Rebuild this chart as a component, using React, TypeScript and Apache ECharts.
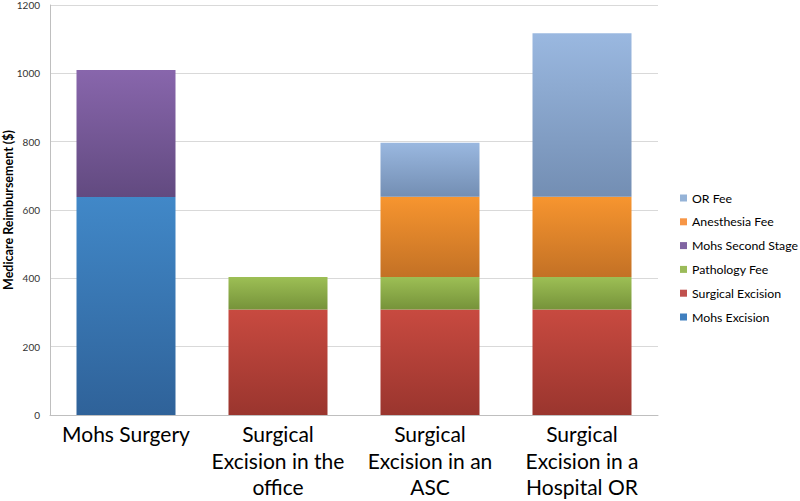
import React, { useEffect, useRef } from "react";
import * as echarts from "echarts";

const categories = [
  "Mohs Surgery",
  "Surgical\nExcision in the\noffice",
  "Surgical\nExcision in an\nASC",
  "Surgical\nExcision in a\nHospital OR",
];
const mohsExcision = [638, 0, 0, 0];
const surgicalExcision = [0, 309, 309, 309];
const pathologyFee = [0, 95, 95, 95];
const mohsSecondStage = [372, 0, 0, 0];
const anesthesiaFee = [0, 0, 235, 235];
const orFee = [0, 0, 158, 478];
const yTicks = { min: 0, max: 1200, interval: 200 };

const seriesDefs = [
  { name: "Mohs Excision", data: mohsExcision, top: "#4188C8", bottom: "#2F6299", legend: "#3F7FBF" },
  { name: "Surgical Excision", data: surgicalExcision, top: "#C84A40", bottom: "#9A352E", legend: "#C0504D" },
  { name: "Pathology Fee", data: pathologyFee, top: "#9DBF55", bottom: "#76933A", legend: "#9BBB59" },
  { name: "Mohs Second Stage", data: mohsSecondStage, top: "#8866AC", bottom: "#624A80", legend: "#8064A2" },
  { name: "Anesthesia Fee", data: anesthesiaFee, top: "#F7952F", bottom: "#C37125", legend: "#F79646" },
  { name: "OR Fee", data: orFee, top: "#9AB8E0", bottom: "#738EB3", legend: "#95B3D7" },
];
const legendOrder = ["OR Fee", "Anesthesia Fee", "Mohs Second Stage", "Pathology Fee", "Surgical Excision", "Mohs Excision"];

export default function App() {
  const ref = useRef<HTMLDivElement>(null);
  useEffect(() => {
    if (!ref.current) return;
    const chart = echarts.init(ref.current, null, { renderer: "svg" });
    const font = "Lato, 'Open Sans', sans-serif";
    chart.setOption({
      animation: false,
      backgroundColor: "#ffffff",
      textStyle: { fontFamily: font },
      grid: { left: 50, right: 142, top: 5, bottom: 86, outerBoundsMode: "none", containLabel: false },
      legend: {
        orient: "vertical",
        left: 675,
        top: 187,
        itemWidth: 7,
        itemHeight: 7,
        itemGap: 11.8,
        icon: "rect",
        textStyle: { fontSize: 12.3, color: "#000", fontFamily: font },
        data: legendOrder.map((n) => {
          const d = seriesDefs.find((s) => s.name === n)!;
          return { name: n, itemStyle: { color: d.legend } };
        }),
      },
      xAxis: {
        type: "category",
        data: categories,
        axisTick: { show: false },
        axisLine: { lineStyle: { color: "#BFBFBF" } },
        axisLabel: {
          interval: 0,
          fontSize: 21,
          lineHeight: 26.5,
          color: "#000",
          margin: 5.5,
          fontFamily: font,
        },
      },
      yAxis: {
        type: "value",
        min: yTicks.min,
        max: yTicks.max,
        interval: yTicks.interval,
        name: "Medicare Reimbursement ($)",
        nameLocation: "middle",
        nameGap: 35,
        nameMoveOverlap: false,
        nameTextStyle: { fontSize: 12.5, fontWeight: "bold", color: "#000", fontFamily: font },
        axisLine: { show: true, lineStyle: { color: "#BFBFBF" } },
        axisTick: { show: false },
        axisLabel: { fontSize: 10, color: "#333", margin: 10, fontFamily: font, formatter: (v: number) => String(v) },
        splitLine: { lineStyle: { color: "#D9D9D9" } },
      },
      series: seriesDefs.map((s) => ({
        name: s.name,
        type: "bar",
        stack: "total",
        barWidth: 99,
        data: s.data.map((v) => (v === 0 ? "-" : v)),
        itemStyle: {
          color: new echarts.graphic.LinearGradient(0, 0, 0, 1, [
            { offset: 0, color: s.top },
            { offset: 1, color: s.bottom },
          ]),
        },
      })),
    });
    return () => chart.dispose();
  }, []);
  return <div ref={ref} style={{ position: "absolute", left: 0, top: 0, width: 800, height: 501 }} />;
}
